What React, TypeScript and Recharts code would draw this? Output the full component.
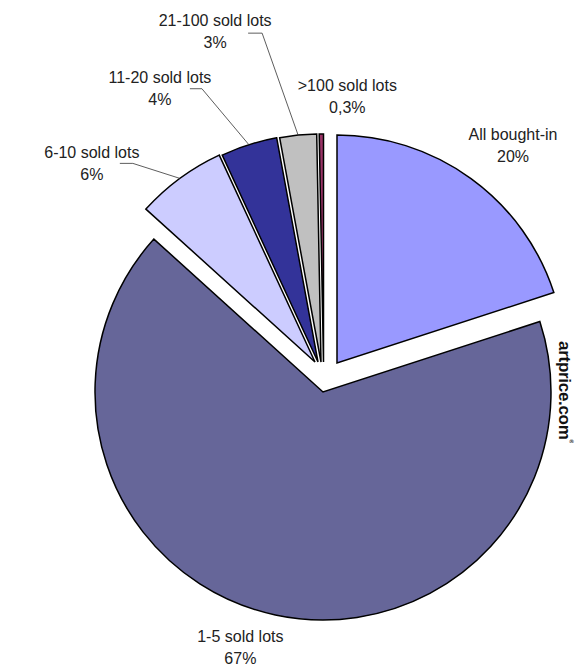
import React from 'react';
import { PieChart, Pie, Cell } from 'recharts';

const categories = ['All bought-in', '1-5 sold lots', '6-10 sold lots', '11-20 sold lots', '21-100 sold lots', '>100 sold lots'];
const shares = [20, 66.7, 6.4, 4, 2.6, 0.3];
const shareLabels = ['20%', '67%', '6%', '4%', '3%', '0,3%'];

const COLORS = ['#9999FF', '#666699', '#CCCCFF', '#333399', '#C0C0C0', '#993366'];
// per-slice pie centres (exploded layout)
const CENTERS: [number, number][] = [[337, 363], [323, 392], [315, 362], [318, 362], [321, 362], [323.5, 362]];
// label offsets from each slice's outer arc midpoint
const LABEL_OFFSETS: [number, number][] = [[42, -38.5], [-35, 27], [-88, -20], [-89, -62], [-83, -109], [26, -43]];
const LEADERS: ([number, number][] | null)[] = [
  null,
  null,
  [[-47, -15], [-60, -15]],
  [[-47, -56], [-59, -56]],
  [[-36, -102], [-50, -102]],
  null,
];

const data = categories.map((name, i) => ({ name, value: shares[i] }));

const RAD = Math.PI / 180;
const FONT = '"Liberation Sans", Arial, sans-serif';

const makeLabel = (target: number) => (props: any) => {
  const { cx, cy, midAngle, outerRadius, index } = props;
  if (index !== target) return null;
  const mx = cx + outerRadius * Math.cos(-midAngle * RAD);
  const my = cy + outerRadius * Math.sin(-midAngle * RAD);
  const [dx, dy] = LABEL_OFFSETS[index];
  const lx = mx + dx;
  const ly = my + dy;
  const leader = LEADERS[index];
  return (
    <g key={`lbl-${index}`}>
      {leader && (
        <polyline
          points={`${mx},${my} ${mx + leader[0][0]},${my + leader[0][1]} ${mx + leader[1][0]},${my + leader[1][1]}`}
          fill="none"
          stroke="#333"
          strokeWidth={0.8}
        />
      )}
      <text x={lx} y={ly} textAnchor="middle" fontFamily={FONT} fontSize={16} fill="#222">
        {categories[index]}
      </text>
      <text x={lx} y={ly + 22} textAnchor="middle" fontFamily={FONT} fontSize={16} fill="#222">
        {shareLabels[index]}
      </text>
    </g>
  );
};

export default function App() {
  return (
    <div style={{ position: 'absolute', left: 0, top: 0, width: 577, height: 667, background: '#fff' }}>
      <PieChart width={577} height={667} margin={{ top: 0, right: 0, bottom: 0, left: 0 }}>
        {categories.map((_, t) => (
          <Pie
            key={t}
            data={data}
            dataKey="value"
            nameKey="name"
            cx={CENTERS[t][0]}
            cy={CENTERS[t][1]}
            outerRadius={228}
            startAngle={90}
            endAngle={-270}
            isAnimationActive={false}
            label={makeLabel(t)}
            labelLine={false}
          >
            {data.map((_, i) => (
              <Cell
                key={i}
                fill={i === t ? COLORS[i] : 'none'}
                stroke={i === t ? '#000' : 'none'}
                strokeWidth={1.5}
              />
            ))}
          </Pie>
        ))}
      </PieChart>
      <div
        style={{
          position: 'absolute',
          left: 564,
          top: 392,
          transform: 'translate(-50%, -50%) rotate(90deg)',
          whiteSpace: 'nowrap',
          fontFamily: FONT,
          fontWeight: 'bold',
          fontSize: 17,
          letterSpacing: -0.3,
          color: '#111',
          lineHeight: 1,
        }}
      >
        artprice.com<span style={{ fontSize: 5, verticalAlign: 'top' }}>®</span>
      </div>
    </div>
  );
}
